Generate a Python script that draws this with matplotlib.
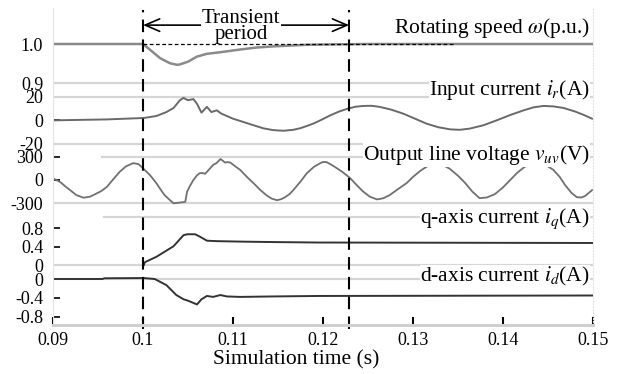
import matplotlib
matplotlib.use("Agg")
import matplotlib.pyplot as plt

W, H, DPI = 617, 374, 100

# rotating speed (p.u.)
t_speed = [0.09, 0.1, 0.1008, 0.1019, 0.1030, 0.1038, 0.1041, 0.1050, 0.1060,
           0.1071, 0.1089, 0.1108, 0.1126, 0.1145, 0.1182, 0.1211, 0.1250, 0.15]
speed = [1.0, 1.0, 0.985, 0.964, 0.951, 0.947, 0.948, 0.955, 0.968,
         0.975, 0.980, 0.986, 0.991, 0.994, 0.998, 0.999, 1.0, 1.0]
t_speed_ref = [0.1, 0.1344]
speed_ref = [1.0, 1.0]

# input current i_r (A)
t_ir = [0.09, 0.0960, 0.1001, 0.1015, 0.1026, 0.1034, 0.1041, 0.1045, 0.1050,
        0.1056, 0.1060, 0.1065, 0.1071, 0.1076, 0.1082, 0.1087, 0.1100, 0.1112,
        0.1123, 0.1134, 0.1145, 0.1156, 0.1167, 0.1175, 0.1182, 0.1190, 0.1197,
        0.1208, 0.1218, 0.1228, 0.1236, 0.1245, 0.1254, 0.1263, 0.1276, 0.1289,
        0.1302, 0.1315, 0.1328, 0.1341, 0.1352, 0.1363, 0.1378, 0.1393, 0.1408,
        0.1423, 0.1434, 0.1445, 0.1456, 0.1467, 0.1480, 0.1490, 0.1499]
i_r = [0.0, 0.8, 2.0, 3.7, 7.0, 10.5, 17.0, 19.0, 17.0,
       18.0, 14.0, 6.5, 11.4, 7.0, 8.5, 5.7, 1.4, -1.5,
       -4.2, -6.8, -8.3, -8.8, -8.0, -6.6, -4.8, -2.5, 0.0,
       4.2, 7.5, 10.0, 11.5, 12.2, 12.3, 11.4, 9.0, 5.7,
       1.5, -2.8, -5.8, -7.6, -8.0, -7.0, -4.2, 0.0, 4.5,
       8.5, 11.0, 12.2, 11.8, 10.5, 7.5, 4.5, 1.4]

# output line voltage v_uv (V)
t_vuv = [0.0900, 0.0908, 0.0914, 0.0919, 0.0926, 0.0934, 0.0941, 0.0947, 0.0954,
         0.0960, 0.0967, 0.0974, 0.0981, 0.0989, 0.0995, 0.1001, 0.1008, 0.1015,
         0.1020, 0.1024, 0.1030, 0.1034, 0.1038, 0.1041, 0.1045, 0.1047, 0.1049,
         0.1052, 0.1056, 0.1060, 0.1063, 0.1066, 0.1069, 0.1073, 0.1078, 0.1082,
         0.1086, 0.1089, 0.1091, 0.1094, 0.1097, 0.1102, 0.1108, 0.1115, 0.1123,
         0.1130, 0.1137, 0.1143, 0.1149, 0.1154, 0.1158, 0.1163, 0.1167, 0.1175,
         0.1182, 0.1190, 0.1197, 0.1200, 0.1204, 0.1208, 0.1213, 0.1222, 0.1230,
         0.1237, 0.1244, 0.1252, 0.1260, 0.1267, 0.1274, 0.1283, 0.1293, 0.1300,
         0.1308, 0.1317, 0.1326, 0.1333, 0.1341, 0.1350, 0.1358, 0.1366, 0.1374,
         0.1382, 0.1391, 0.1400, 0.1408, 0.1416, 0.1424, 0.1433, 0.1441, 0.1448,
         0.1456, 0.1463, 0.1469, 0.1476, 0.1482, 0.1487, 0.1491, 0.1499]
v_uv = [22, -26, -85, -130, -195, -228, -215, -182, -140,
        -87, 10, 104, 175, 217, 205, 139, 60, -43,
        -130, -195, -260, -300, -295, -290, -285, -280, -150,
        -80, 0, 60, 87, 90, 80, 130, 195, 220,
        270, 245, 225, 230, 225, 180, 130, 45, -43,
        -125, -195, -240, -260, -245, -220, -180, -130, -20,
        87, 170, 217, 232, 230, 205, 170, 100, 26,
        -60, -143, -215, -250, -235, -195, -120, -39, 40,
        117, 185, 217, 195, 143, 55, -39, -150, -234,
        -225, -182, -95, 0, 95, 169, 215, 225, 190,
        130, 40, -65, -165, -221, -225, -208, -130]

# q-axis current i_q (A)
t_iq = [0.1001, 0.1002, 0.1015, 0.1034, 0.1045, 0.1049, 0.1058, 0.1063, 0.1071,
        0.1082, 0.1108, 0.1145, 0.1195, 0.15]
i_q = [0.0, 0.06, 0.18, 0.41, 0.65, 0.67, 0.67, 0.62, 0.53,
       0.52, 0.51, 0.50, 0.49, 0.48]

# d-axis current i_d (A)
t_id = [0.09, 0.0955, 0.0957, 0.1001, 0.1013, 0.1026, 0.1037, 0.1045, 0.1050,
        0.1060, 0.1065, 0.1071, 0.1078, 0.1086, 0.1093, 0.1108, 0.1145, 0.1195, 0.15]
i_d = [0.0, 0.0, 0.015, 0.02, 0.0, -0.13, -0.34, -0.43, -0.46,
       -0.54, -0.43, -0.36, -0.38, -0.34, -0.37, -0.38, -0.37, -0.36, -0.35]

x_ticks = [0.09, 0.1, 0.11, 0.12, 0.13, 0.14, 0.15]
x_ticklabels = ['0.09', '0.1', '0.11', '0.12', '0.13', '0.14', '0.15']
t_events = [0.1, 0.1229]

plt.rcParams['font.family'] = ['Liberation Serif', 'DejaVu Serif']
plt.rcParams['mathtext.fontset'] = 'stix'
plt.rcParams['axes.unicode_minus'] = False

GRID = '#d6d6d6'
X0, X1 = 53, 593

fig = plt.figure(figsize=(W / DPI, H / DPI), dpi=DPI)


def add_panel(top, bottom, v_a, y_a, v_b, y_b, ticks, labels):
    """Panel between pixel rows top..bottom, value v_a drawn at row y_a, v_b at y_b."""
    ax = fig.add_axes([X0 / W, 1 - bottom / H, (X1 - X0) / W, (bottom - top) / H])
    k = (v_a - v_b) / (y_b - y_a)
    ax.set_ylim(v_b - (bottom - y_b) * k, v_a + (y_a - top) * k)
    ax.set_xlim(0.09, 0.15)
    ax.patch.set_alpha(0)
    for s in ax.spines.values():
        s.set_visible(False)
    ax.set_xticks([])
    ax.set_yticks(ticks)
    ax.set_yticklabels(labels)
    ax.tick_params(axis='y', direction='in', length=5, width=1.2, pad=7, labelsize=13)
    return ax


ax_w = add_panel(28, 86, 1.0, 44, 0.9, 83.3, [0.9, 1.0], ['0.9', '1.0'])
ax_i = add_panel(92, 148, 20, 96.7, -20, 144, [-20, 0, 20], ['-20', '0', '20'])
ax_v = add_panel(150, 207, 300, 156.7, -300, 203.3, [-300, 0, 300], ['-300', '0', '300'])
ax_q = add_panel(212, 268, 0.8, 228.3, 0.0, 265, [0, 0.4, 0.8], ['0', '0.4', '0.8'])
ax_d = add_panel(272, 325, 0.0, 279, -0.8, 316.7, [-0.8, -0.4, 0], ['-0.8', '-0.4', '0'])

# light panel separators
ax_w.axhline(0.9, color=GRID, lw=1.6)
ax_i.axhline(20, color=GRID, lw=1.6)
ax_i.axhline(-20, color=GRID, lw=1.6)
ax_v.axhline(300, xmin=0.09, color=GRID, lw=1.6)
ax_v.axhline(-300, color=GRID, lw=1.6)
ax_q.axhline(1.05, xmin=0.094, color=GRID, lw=1.6)
ax_q.axhline(0, color=GRID, lw=1.6)
ax_d.axhline(0, color=GRID, lw=1.6)

# traces
ax_w.plot(t_speed, speed, color='#8a8a8a', lw=1.8)
ax_w.plot(t_speed_ref, speed_ref, color='k', lw=0.9, dashes=(3, 2), zorder=5)
ax_i.plot(t_ir, i_r, color='#6a6a6a', lw=1.4)
ax_v.plot(t_vuv, v_uv, color='#707070', lw=1.3)
ax_q.plot(t_iq, i_q, color='#333333', lw=1.4)
ax_d.plot(t_id, i_d, color='#333333', lw=1.4)

# common time axis, event markers and annotation
ax = fig.add_axes([X0 / W, 1 - 325 / H, (X1 - X0) / W, (325 - 8) / H])
ax.set_zorder(10)
ax.patch.set_alpha(0)
ax.set_xlim(0.09, 0.15)
ax.set_ylim(0, 1)
ax.set_yticks([])
ax.set_xticks(x_ticks)
ax.set_xticklabels(x_ticklabels)
ax.tick_params(axis='x', direction='in', length=6, width=1.5, pad=5, labelsize=13)
ax.spines['top'].set_visible(False)
ax.spines['bottom'].set_color('#cfcfcf')
ax.spines['bottom'].set_linewidth(2.2)
ax.spines['left'].set_color('#e4e4e4')
ax.spines['left'].set_linewidth(0.8)
ax.spines['right'].set_color('#e4e4e4')
ax.spines['right'].set_linewidth(0.8)
ax.spines['right'].set_linestyle(':')

for t in t_events:
    ax.axvline(t, ymin=-0.013, ymax=0.994, color='k', lw=1.5, dashes=(6, 3.5), clip_on=False)

ax.annotate('', xy=(t_events[0], 0.946), xytext=(t_events[1], 0.946),
            xycoords=('data', 'axes fraction'),
            arrowprops=dict(arrowstyle='<->,head_length=0.7,head_width=0.3',
                            lw=1.2, color='k', shrinkA=0, shrinkB=0,
                            mutation_scale=15))
ax.text(0.1109, 0.9527, 'Transient', transform=ax.get_xaxis_transform(),
        ha='center', va='baseline', fontsize=15,
        bbox=dict(facecolor='white', edgecolor='none', pad=0.5))
ax.text(0.1109, 0.9013, 'period', transform=ax.get_xaxis_transform(),
        ha='center', va='baseline', fontsize=15)

# panel captions
captions = [
    (32.5, r'Rotating speed $\omega$(p.u.)'),
    (94.5, r'Input current $i_r$(A)'),
    (159.5, r'Output line voltage $v_{uv}$(V)'),
    (222.5, r'q-axis current $i_q$(A)'),
    (281.5, r'd-axis current $i_d$(A)'),
]
for y_px, txt in captions:
    fig.text(590 / W, 1 - y_px / H, txt, ha='right', va='baseline', fontsize=15.5,
             bbox=dict(facecolor='white', edgecolor='none', pad=0.3))

fig.text(296 / W, 1 - 360 / H, 'Simulation time (s)', ha='center', va='center', fontsize=15.5)

fig.savefig('out.png', dpi=DPI)
